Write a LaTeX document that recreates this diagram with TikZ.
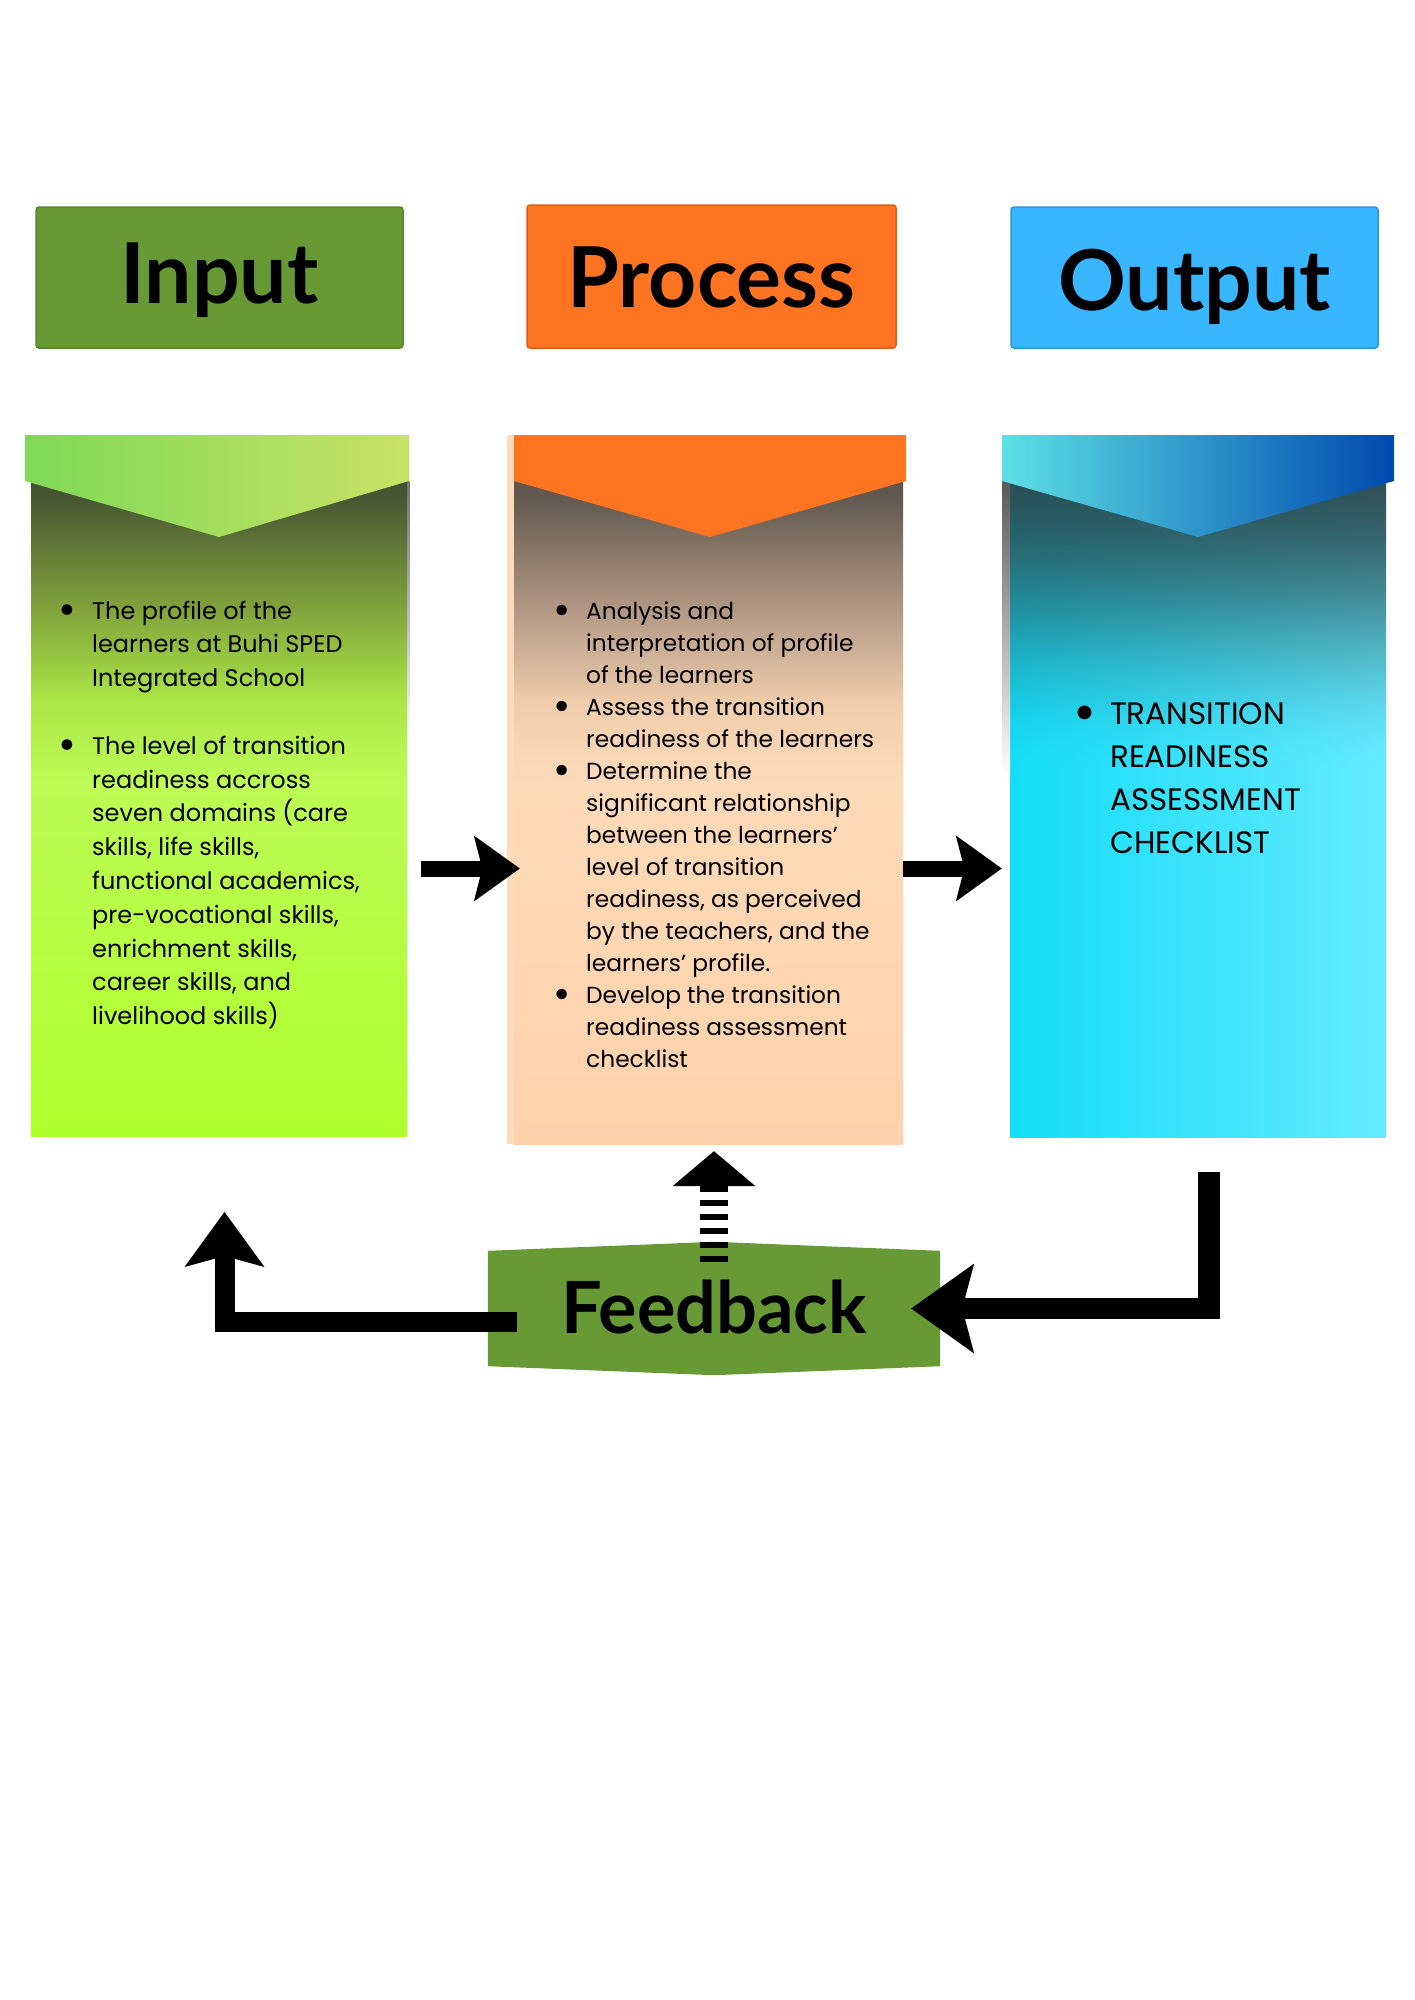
\documentclass[tikz,border=0pt]{standalone}
\usepackage{fontspec}
\setmainfont{Poppins}
\newfontfamily\headfont{Lato}
\usetikzlibrary{arrows.meta,backgrounds}

\definecolor{inhead}{RGB}{103,154,52}
\definecolor{inheadD}{RGB}{88,134,44}
\definecolor{prhead}{RGB}{255,116,32}
\definecolor{prheadD}{RGB}{222,92,20}
\definecolor{outhead}{RGB}{56,182,255}
\definecolor{outheadD}{RGB}{40,152,222}
\definecolor{fbgreen}{RGB}{103,154,52}

\definecolor{inbandL}{RGB}{126,217,87}
\definecolor{inbandR}{RGB}{201,226,101}
\definecolor{prband}{RGB}{255,116,32}
\definecolor{prstrip}{RGB}{253,218,185}
\definecolor{outbandL}{RGB}{93,224,230}
\definecolor{outbandR}{RGB}{0,74,173}

\definecolor{inT}{RGB}{55,60,45}
\definecolor{in0}{RGB}{72,88,50}
\definecolor{in1}{RGB}{130,165,60}
\definecolor{in2}{RGB}{170,230,70}
\definecolor{in3}{RGB}{188,252,85}
\definecolor{inB}{RGB}{176,255,45}

\definecolor{prT}{RGB}{75,70,65}
\definecolor{pr0}{RGB}{100,90,80}
\definecolor{pr1}{RGB}{180,155,135}
\definecolor{pr2}{RGB}{240,205,172}
\definecolor{pr3}{RGB}{253,218,185}
\definecolor{prB}{RGB}{253,210,170}

\pgfdeclareverticalshading{inshade}{100bp}{color(0bp)=(inB); color(25bp)=(inB); color(50.4bp)=(in3); color(56.1bp)=(in2); color(62.4bp)=(in1); color(70.4bp)=(in0); color(75bp)=(inT); color(100bp)=(inT)}
\pgfdeclareverticalshading{prshade}{100bp}{color(0bp)=(prB); color(25bp)=(prB); color(50.4bp)=(pr3); color(56.1bp)=(pr2); color(62.4bp)=(pr1); color(70.4bp)=(pr0); color(75bp)=(prT); color(100bp)=(prT)}

% output body: cyan, lighter to the right, darkened smoothly towards the top
\pgfdeclarefunctionalshading{outfn}{\pgfpointorigin}{\pgfpoint{100bp}{100bp}}{}{
 exch 25 sub 50 div dup 0 lt {pop 0} if dup 1 gt {pop 1} if
 exch 25 sub 50 div
 0.52 sub 0.44 div dup 0 lt {pop 0} if dup 1 gt {pop 1} if
 dup dup mul exch 2 mul 3 exch sub mul 0.93 mul
 1 index 0.314 mul 0.078 add 1 index 1 exch sub mul 1 index 0.165 mul add 3 1 roll
 1 index 0.051 mul 0.867 add 1 index 1 exch sub mul 1 index 0.267 mul add 3 1 roll
 1 index 0.027 mul 0.973 add 1 index 1 exch sub mul 1 index 0.282 mul add 3 1 roll
 pop pop
}

\newcommand\bul{\raisebox{-0.23em}{\scalebox{1.8}{\textbullet}}}

\tikzset{
  head/.style={rectangle, rounded corners=3pt, line width=1.5pt, inner sep=0pt, text depth=0pt,
    font=\headfont\bfseries\fontsize{84}{90}\selectfont, text=black},
  panelbody/.style={rectangle, inner sep=0pt},
  txt/.style={anchor=base west, inner sep=0pt, text=black},
  fbtext/.style={rectangle, inner sep=0pt, text height=49pt, text depth=0pt,
    font=\headfont\bfseries\fontsize{72}{80}\selectfont, text=black},
  arrH/.style={line width=16pt, -{Stealth[length=46pt,width=66pt,inset=8.5pt,line width=0pt]}},
  arrL/.style={line width=20pt, -{Stealth[length=55pt,width=80pt,inset=11pt,line width=0pt]}},
  arrR/.style={line width=21.5pt, -{Stealth[length=63pt,width=90pt,inset=12pt,line width=0pt]}},
  arrDash/.style={line width=28pt, dash pattern=on 6pt off 8pt, -{Triangle[length=35pt,width=83pt,line width=0pt]}}
}

\begin{document}
\begin{tikzpicture}[x=1pt,y=-1pt]
\begin{scope}[on background layer]
\fill[white] (0,0) rectangle (1414,2000);
\end{scope}
\useasboundingbox (0,0) rectangle (1414,2000);

% headers
\node[head, text height=51pt, fill=inhead, draw=inheadD, minimum width=367pt, minimum height=141pt] (hin) at (219.5,277.5) {Input};
\node[head, text height=61pt, fill=prhead, draw=prheadD, minimum width=369pt, minimum height=143pt] (hpr) at (711.5,276.5) {Process};
\node[head, text height=65pt, fill=outhead, draw=outheadD, minimum width=367pt, minimum height=141pt] (hout) at (1194.5,277.5) {Output};

% panel bodies
\node[panelbody, shade, shading=inshade, minimum width=376pt, minimum height=701pt] (bin) at (219,785.5) {};
\fill[prstrip] (507,435) rectangle (514,1144);
\node[panelbody, shade, shading=prshade, minimum width=389pt, minimum height=709pt] (bpr) at (708.5,789.5) {};
\node[panelbody, shade, shading=outfn, minimum width=376pt, minimum height=702pt] (bout) at (1198,786) {};

% shadow strips
\shade[top color=black!65, bottom color=white] (1002,481) rectangle (1010,775);
\shade[top color=black!55, bottom color=white] (407,481) rectangle (409.5,745);

% bands
\shade[left color=inbandL, right color=inbandR] (25,435) -- (409,435) -- (409,481) -- (219,537) -- (25,481) -- cycle;
\fill[prband] (514,435) -- (906,435) -- (906,481) -- (710,537) -- (514,481) -- cycle;
\shade[left color=outbandL, right color=outbandR] (1002,435) -- (1394,435) -- (1394,481) -- (1198,537) -- (1002,481) -- cycle;

% texts
\node[txt] (tin) at (58,619) {\fontsize{24}{33.8}\selectfont
\begin{tabular}[t]{@{}p{34pt}@{}l@{}}
\bul & The profile of the\\
 & learners at Buhi SPED\\
 & Integrated School\\
 & \\
\bul & The level of transition\\
 & readiness accross\\
 & seven domains (care\\
 & skills, life skills,\\
 & functional academics,\\
 & pre-vocational skills,\\
 & enrichment skills,\\
 & career skills, and\\
 & livelihood skills)
\end{tabular}};

\node[txt] (tpr) at (553,619) {\fontsize{23.3}{32}\selectfont
\begin{tabular}[t]{@{}p{33pt}@{}l@{}}
\bul & Analysis and\\
 & interpretation of profile\\
 & of the learners\\
\bul & Assess the transition\\
 & readiness of the learners\\
\bul & Determine the\\
 & significant relationship\\
 & between the learners’\\
 & level of transition\\
 & readiness, as perceived\\
 & by the teachers, and the\\
 & learners’ profile.\\
\bul & Develop the transition\\
 & readiness assessment\\
 & checklist
\end{tabular}};

\node[txt] (tout) at (1073,724) {\fontsize{31}{43}\selectfont
\begin{tabular}[t]{@{}p{37pt}@{}l@{}}
\bul & TRANSITION\\
 & READINESS\\
 & ASSESSMENT\\
 & CHECKLIST
\end{tabular}};

% arrows between panels
\coordinate (ay) at (0,868.5);
\draw[arrH, shorten <=14pt, shorten >=-6pt] (bin.east |- ay) -- (bpr.west |- ay);
\draw[arrH, shorten >=8pt] (bpr.east |- ay) -- (bout.west |- ay);

% feedback
\node[fbtext, minimum width=452pt, minimum height=115pt] (fb) at (714,1308.5) {Feedback};
\begin{scope}[on background layer]
\fill[fbgreen] (fb.north west) -- ([yshift=9pt]fb.north) -- (fb.north east) -- (fb.south east) -- ([yshift=-9pt]fb.south) -- (fb.south west) -- cycle;
\end{scope}

\draw[arrDash, shorten <=-11pt, shorten >=7pt] (fb.north) -- (bpr.south -| fb.north);

\coordinate (lt) at (224.5,1212);
\draw[arrL] ([xshift=29pt,yshift=-13pt]fb.west) -| (lt);

\coordinate (rt) at (1209,1172);
\draw[arrR] (rt) |- ([xshift=-29pt]fb.east);
\end{tikzpicture}
\end{document}
